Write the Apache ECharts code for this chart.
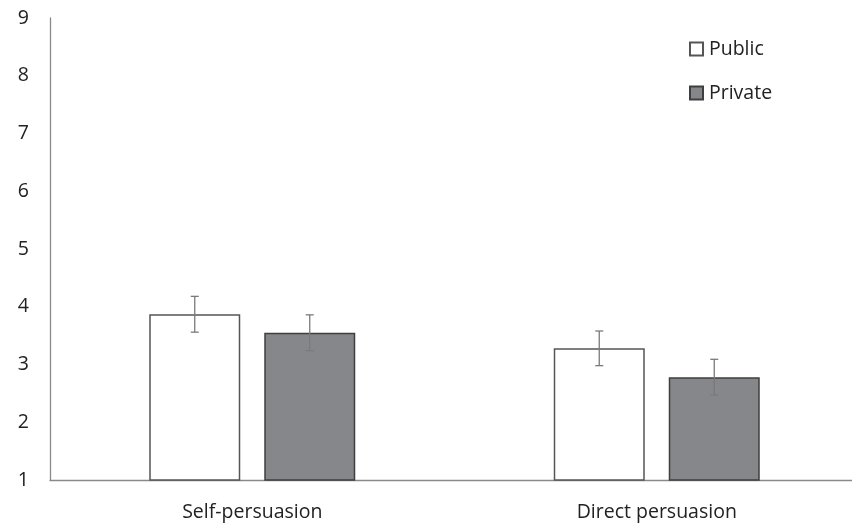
<!DOCTYPE html>
<html>
<head>
<meta charset="utf-8">
<script src="https://cdn.jsdelivr.net/npm/echarts@6/dist/echarts.min.js"></script>
<style>
html,body{margin:0;padding:0;background:#fff;}
#chart{width:852px;height:523px;}
</style>
</head>
<body>
<div id="chart"></div>
<script>
// Conditions and group means with their error half-widths
const categories = ['Self-persuasion', 'Direct persuasion'];
const publicValues = [3.87, 3.28];
const privateValues = [3.55, 2.78];
const publicErrors = [0.31, 0.30];
const privateErrors = [0.31, 0.31];
const yTicks = [1, 9, 1]; // min, max, step

const BAR_WIDTH = 91;
const BAR_GAP = 24;
const FONT = '"Open Sans", "Noto Sans", sans-serif';

const chart = echarts.init(document.getElementById('chart'));

function errorSeries(name, values, errors, offsetSign) {
  return {
    type: 'custom',
    name: name + ' error',
    silent: true,
    z: 10,
    data: values.map((v, i) => [i, v - errors[i], v + errors[i]]),
    renderItem: function (params, api) {
      const shift = offsetSign * (BAR_WIDTH + BAR_GAP) / 2;
      const lo = api.coord([api.value(0), api.value(1)]);
      const hi = api.coord([api.value(0), api.value(2)]);
      const x = lo[0] + shift;
      const cap = 4;
      const style = { stroke: '#7a7a7a', lineWidth: 1.3 };
      return {
        type: 'group',
        children: [
          { type: 'line', shape: { x1: x, y1: hi[1], x2: x, y2: lo[1] }, style },
          { type: 'line', shape: { x1: x - cap, y1: hi[1], x2: x + cap, y2: hi[1] }, style },
          { type: 'line', shape: { x1: x - cap, y1: lo[1], x2: x + cap, y2: lo[1] }, style }
        ]
      };
    }
  };
}

chart.setOption({
  animation: false,
  backgroundColor: '#ffffff',
  grid: { left: 50, top: 18, width: 809, height: 462, containLabel: false, outerBoundsMode: 'none' },
  legend: {
    data: ['Public', 'Private'],
    orient: 'vertical',
    left: 684,
    top: 34,
    itemWidth: 13,
    itemHeight: 13,
    itemGap: 24,
    icon: 'rect',
    textStyle: { fontFamily: FONT, fontSize: 19.5, color: '#222', padding: [0, 0, 0, 1] }
  },
  xAxis: {
    type: 'category',
    data: categories,
    axisLine: { lineStyle: { color: '#8a8a8a', width: 1.3 } },
    axisTick: { show: false },
    axisLabel: { fontFamily: FONT, fontSize: 19.5, color: '#222', margin: 22 }
  },
  yAxis: {
    type: 'value',
    min: yTicks[0],
    max: yTicks[1],
    interval: yTicks[2],
    axisLine: { show: true, lineStyle: { color: '#8a8a8a', width: 1.3 } },
    axisTick: { show: false },
    splitLine: { show: false },
    axisLabel: { fontFamily: FONT, fontSize: 19.5, color: '#222', margin: 21 }
  },
  series: [
    {
      name: 'Public',
      type: 'bar',
      data: publicValues,
      barWidth: BAR_WIDTH,
      barGap: (BAR_GAP / BAR_WIDTH * 100) + '%',
      itemStyle: { color: '#ffffff', borderColor: '#555555', borderWidth: 1.5 }
    },
    {
      name: 'Private',
      type: 'bar',
      data: privateValues,
      barWidth: BAR_WIDTH,
      itemStyle: { color: '#86878a', borderColor: '#3f3f3f', borderWidth: 1.5 }
    },
    errorSeries('Public', publicValues, publicErrors, -1),
    errorSeries('Private', privateValues, privateErrors, 1)
  ]
});
</script>
</body>
</html>
